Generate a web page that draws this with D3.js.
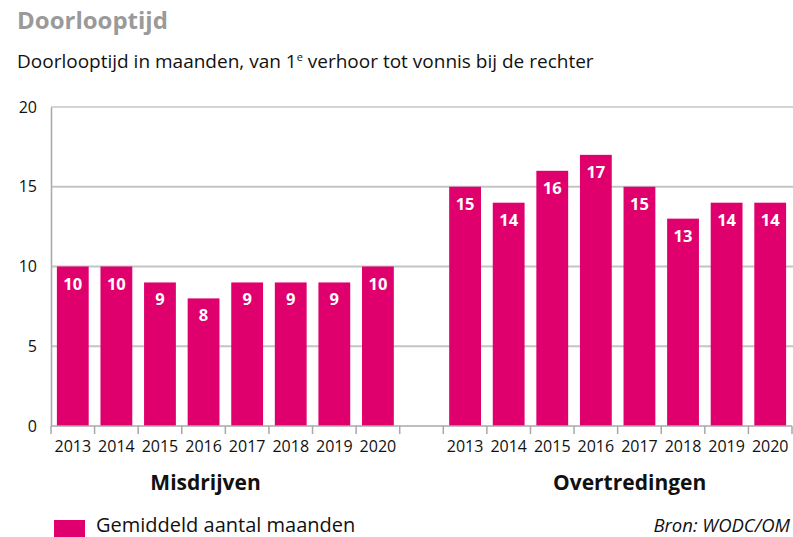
<!DOCTYPE html>
<html>
<head>
<meta charset="utf-8">
<script src="https://cdn.jsdelivr.net/npm/d3@7"></script>
<style>
  body { margin: 0; background: #fff; }
  text { font-family: "Open Sans", "Noto Sans", sans-serif; }
</style>
</head>
<body>
<svg id="chart"></svg>
<script>
const years = ["2013", "2014", "2015", "2016", "2017", "2018", "2019", "2020"];
const groups = ["Misdrijven", "Overtredingen"];
const misdrijven = [10, 10, 9, 8, 9, 9, 9, 10];
const overtredingen = [15, 14, 16, 17, 15, 13, 14, 14];
const yTicks = [0, 5, 10, 15, 20];

const W = 793, H = 537;
const margin = { top: 107, right: 1, bottom: 111, left: 51 };
const width = W - margin.left - margin.right,
      height = H - margin.top - margin.bottom;
const color = "#e0006d";

// one band per year, plus one empty band between the two groups
const keys = [...years.map(y => groups[0] + "|" + y), "gap", ...years.map(y => groups[1] + "|" + y)];
const data = [
    ...years.map((y, i) => ({ key: groups[0] + "|" + y, year: y, value: misdrijven[i] })),
    ...years.map((y, i) => ({ key: groups[1] + "|" + y, year: y, value: overtredingen[i] }))
];

const svg = d3.select("#chart").attr("width", W).attr("height", H);

svg.append("text")
    .attr("x", 17).attr("y", 29)
    .style("font-size", "24px").style("font-weight", "bold").style("fill", "#9a9a9a")
    .text("Doorlooptijd");

const sub = svg.append("text")
    .attr("x", 17).attr("y", 68)
    .style("font-size", "19px").style("fill", "#111");
sub.append("tspan").text("Doorlooptijd in maanden, van 1");
sub.append("tspan").attr("dy", -7).style("font-size", "11px").text("e");
sub.append("tspan").attr("dy", 7).text(" verhoor tot vonnis bij de rechter");

const g = svg.append("g").attr("transform", `translate(${margin.left},${margin.top})`);

const x = d3.scaleBand().domain(keys).range([0, width]).paddingInner(0.27).paddingOuter(0.135);
const xb = d3.scaleBand().domain(keys).range([0, width]);
const y = d3.scaleLinear().domain([0, 20]).range([height, 0]);

// gridlines
g.append("g")
    .selectAll("line").data(yTicks.filter(d => d > 0)).enter().append("line")
    .attr("x1", 0).attr("x2", width + margin.right)
    .attr("y1", d => y(d)).attr("y2", d => y(d))
    .attr("stroke", d => d === 20 ? "#a8a8a8" : "#c4c4c4")
    .attr("stroke-width", d => d === 20 ? 1 : 2);

// y axis
const yAxis = g.append("g")
    .call(d3.axisLeft(y).tickValues(yTicks).tickSize(0).tickPadding(14));
yAxis.select(".domain").attr("stroke", "#a8a8a8").attr("stroke-width", 1.5);
yAxis.selectAll("text")
    .style("font-size", "16px").style("fill", "#111")
    .style("font-family", "\"Open Sans\", \"Noto Sans\", sans-serif");

// bars
g.selectAll(".bar").data(data).enter().append("rect")
    .attr("class", "bar")
    .attr("x", d => x(d.key))
    .attr("width", x.bandwidth())
    .attr("y", d => y(d.value))
    .attr("height", d => height - y(d.value))
    .attr("fill", color);

g.selectAll(".label").data(data).enter().append("text")
    .attr("class", "label")
    .attr("x", d => x(d.key) + x.bandwidth() / 2)
    .attr("y", d => y(d.value) + 23)
    .attr("text-anchor", "middle")
    .style("font-size", "16.5px").style("font-weight", "bold").style("fill", "#fff")
    .text(d => d.value);

// x axis: ticks at band boundaries
const xAxis = g.append("g").attr("transform", `translate(0,${height})`);
xAxis.append("line")
    .attr("x1", 0).attr("x2", width)
    .attr("stroke", "#a8a8a8").attr("stroke-width", 1.5);
const bounds = [0, ...keys.map(k => xb(k) + xb.bandwidth())];
xAxis.selectAll(".tick").data(bounds).enter().append("line")
    .attr("class", "tick")
    .attr("x1", d => d).attr("x2", d => d)
    .attr("y1", 0).attr("y2", 8)
    .attr("stroke", "#a8a8a8").attr("stroke-width", 1.5);
xAxis.selectAll(".year").data(data).enter().append("text")
    .attr("class", "year")
    .attr("x", d => xb(d.key) + xb.bandwidth() / 2)
    .attr("y", 452 - margin.top - height)
    .attr("text-anchor", "middle")
    .style("font-size", "16px").style("fill", "#111")
    .text(d => d.year);

// group labels
const groupX = [xb(groups[0] + "|2016") + xb.bandwidth() / 2 + 2, xb(groups[1] + "|2017") + 12];
g.selectAll(".group").data(groups).enter().append("text")
    .attr("class", "group")
    .attr("x", (d, i) => groupX[i])
    .attr("y", 490 - margin.top)
    .attr("text-anchor", "middle")
    .style("font-size", "21px").style("font-weight", "bold").style("fill", "#111")
    .text(d => d);

// legend
svg.append("rect")
    .attr("x", 54).attr("y", 520).attr("width", 31).attr("height", 17)
    .attr("fill", color);
svg.append("text")
    .attr("x", 96).attr("y", 532)
    .style("font-size", "20px").style("fill", "#111")
    .text("Gemiddeld aantal maanden");

svg.append("text")
    .attr("x", 790).attr("y", 532)
    .attr("text-anchor", "end")
    .style("font-size", "18.5px").style("font-style", "italic").style("fill", "#111")
    .text("Bron: WODC/OM");
</script>
</body>
</html>
